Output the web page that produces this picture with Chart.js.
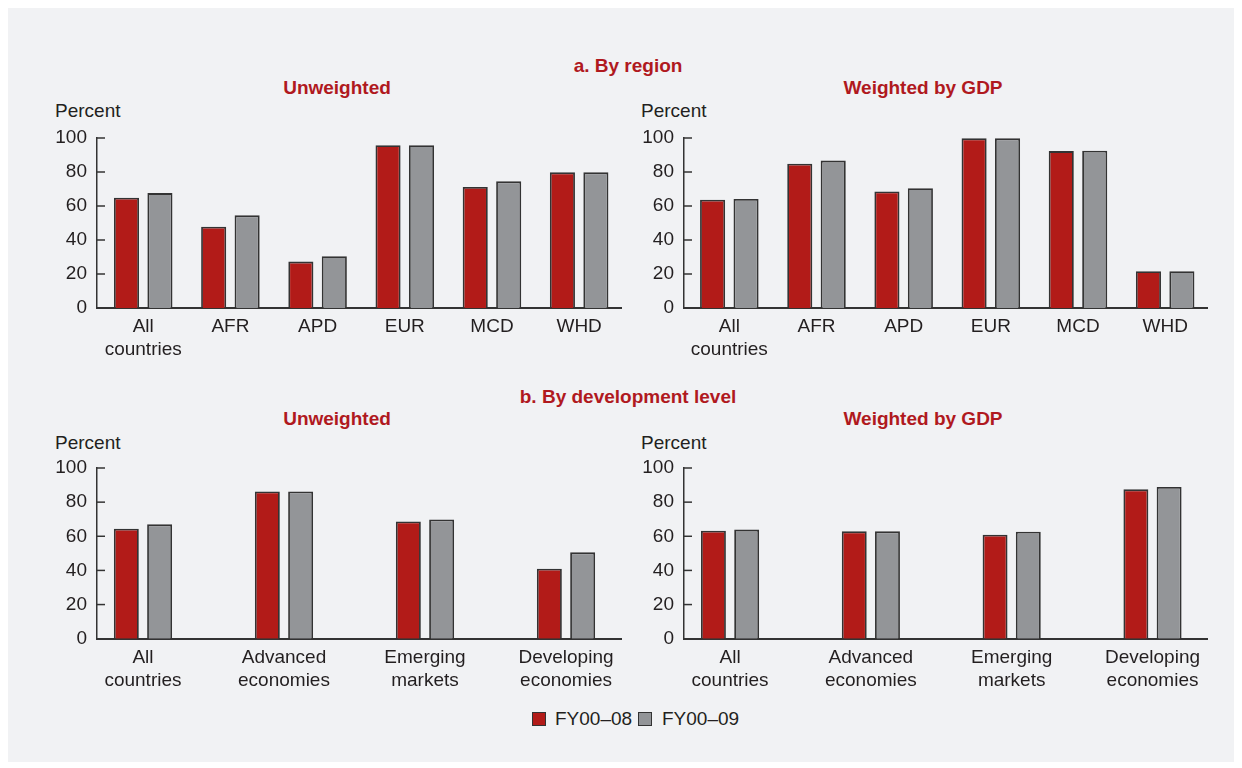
<!DOCTYPE html>
<html><head><meta charset="utf-8">
<script src="https://cdn.jsdelivr.net/npm/chart.js@4/dist/chart.umd.min.js"></script>
<style>
html,body{margin:0;padding:0;background:#fff;}
body{width:1242px;height:768px;position:relative;overflow:hidden;font-family:"Liberation Sans",Arial,sans-serif;color:#231f20;}
#panel{position:absolute;left:8px;top:8px;width:1226px;height:754px;background:#f1f2f4;}
.t{position:absolute;white-space:nowrap;font-size:19px;line-height:24px;}
.title{font-weight:bold;color:#b0191e;text-align:center;width:400px;}
canvas{position:absolute;}
.sw{position:absolute;width:12px;height:12px;border:1px solid #333;}
</style></head>
<body>
<div id="panel"></div>
<div class="t title" style="left:428px;top:54px;">a. By region</div>
<div class="t title" style="left:137px;top:75.5px;">Unweighted</div>
<div class="t title" style="left:723px;top:75.5px;">Weighted by GDP</div>
<div class="t title" style="left:428px;top:385px;">b. By development level</div>
<div class="t title" style="left:137px;top:407px;">Unweighted</div>
<div class="t title" style="left:723px;top:407px;">Weighted by GDP</div>
<div class="t" style="left:55px;top:99.4px;">Percent</div>
<div class="t" style="left:641px;top:99.4px;">Percent</div>
<div class="t" style="left:55px;top:430.7px;">Percent</div>
<div class="t" style="left:641px;top:430.7px;">Percent</div>
<canvas id="c1"></canvas>
<canvas id="c2"></canvas>
<canvas id="c3"></canvas>
<canvas id="c4"></canvas>
<div class="sw" style="left:532px;top:712px;background:#b21b18;"></div>
<div class="t" id="lg1" style="left:555px;top:707.4px;"></div>
<div class="sw" style="left:638px;top:712px;background:#939598;"></div>
<div class="t" id="lg2" style="left:662px;top:707.4px;"></div>
<script>
// ---- data ----
const seriesNames = ['FY00\u201308', 'FY00\u201309'];
const regionCategories = [['All', 'countries'], 'AFR', 'APD', 'EUR', 'MCD', 'WHD'];
const devCategories = [['All', 'countries'], ['Advanced', 'economies'], ['Emerging', 'markets'], ['Developing', 'economies']];
const yTickValues = [0, 20, 40, 60, 80, 100];

const regionUnweighted08 = [64.9, 47.8, 27.3, 95.8, 71.2, 79.8];
const regionUnweighted09 = [67.6, 54.5, 30.4, 95.8, 74.5, 79.8];
const regionGdp08 = [63.7, 84.9, 68.6, 99.8, 92.3, 21.6];
const regionGdp09 = [64.1, 86.7, 70.4, 99.8, 92.5, 21.6];
const devUnweighted08 = [64.4, 86.3, 68.7, 41.0];
const devUnweighted09 = [67.0, 86.3, 69.9, 50.6];
const devGdp08 = [63.3, 62.9, 60.9, 87.5];
const devGdp09 = [63.9, 62.9, 62.7, 88.9];

// ---- style ----
const RED = '#b21b18', GRAY = '#939598', EDGE = '#333333', AXIS = '#333333', TEXT = '#231f20';
const FONT = '"Liberation Sans", Arial, sans-serif';
document.getElementById('lg1').textContent = seriesNames[0];
document.getElementById('lg2').textContent = seriesNames[1];

const inwardTicks = {
  id: 'inwardTicks',
  afterDraw(chart) {
    const ys = chart.scales.y, ctx = chart.ctx, x0 = chart.chartArea.left;
    ctx.save();
    ctx.strokeStyle = AXIS; ctx.lineWidth = 1.5;
    ys.ticks.forEach(t => {
      if (t.value === 0) return;
      const py = ys.getPixelForValue(t.value);
      ctx.beginPath(); ctx.moveTo(x0, py); ctx.lineTo(x0 + 8, py); ctx.stroke();
    });
    ctx.restore();
  }
};

const Y_W = 77, PAD_T = 28, X_H = 62, PAD_R = 20;
function makeChart(id, area, cats, s08, s09, xMin, xMax, catPct) {
  const cv = document.getElementById(id);
  const w = area.right - area.left + Y_W + PAD_R;
  const h = area.bottom - area.top + PAD_T + X_H;
  cv.width = Math.round(w); cv.height = Math.round(h);
  cv.style.left = (area.left - Y_W) + 'px';
  cv.style.top = (area.top - PAD_T) + 'px';
  const padR = cv.width - Y_W - (area.right - area.left);
  const padT = PAD_T;
  const xh = cv.height - padT - (area.bottom - area.top);
  const mk = (vals) => vals.map((v, i) => ({x: i, y: v}));
  new Chart(cv, {
    type: 'bar',
    data: {
      datasets: [
        {label: seriesNames[0], data: mk(s08), backgroundColor: RED, borderColor: EDGE, borderWidth: 1.8, categoryPercentage: catPct, barPercentage: 0.75},
        {label: seriesNames[1], data: mk(s09), backgroundColor: GRAY, borderColor: EDGE, borderWidth: 1.8, categoryPercentage: catPct, barPercentage: 0.75}
      ]
    },
    options: {
      responsive: false, animation: false, devicePixelRatio: 1,
      layout: {padding: {left: 0, top: padT, right: padR, bottom: 0}},
      plugins: {legend: {display: false}, tooltip: {enabled: false}},
      scales: {
        x: {
          type: 'linear', min: xMin, max: xMax, offset: false,
          afterBuildTicks: s => { s.ticks = cats.map((c, i) => ({value: i})); },
          afterFit: s => { s.height = xh; },
          grid: {display: false, drawTicks: false},
          border: {display: true, color: AXIS, width: 2},
          ticks: {
            autoSkip: false, maxRotation: 0, padding: 7, color: TEXT,
            font: {family: FONT, size: 19, lineHeight: 1.23},
            callback: v => cats[v]
          }
        },
        y: {
          min: 0, max: 100,
          afterBuildTicks: s => { s.ticks = yTickValues.map(v => ({value: v})); },
          afterFit: s => { s.width = Y_W; },
          grid: {display: false, drawTicks: false},
          border: {display: true, color: AXIS, width: 1.5},
          ticks: {padding: 10, color: TEXT, font: {family: FONT, size: 19}}
        }
      }
    },
    plugins: [inwardTicks]
  });
}

makeChart('c1', {left: 97, right: 621, top: 137.7, bottom: 307.7}, regionCategories, regionUnweighted08, regionUnweighted09, -0.53, 5.48, 0.7675);
makeChart('c2', {left: 684, right: 1207, top: 137.7, bottom: 307.7}, regionCategories, regionGdp08, regionGdp09, -0.52, 5.48, 0.7675);
makeChart('c3', {left: 97, right: 621, top: 468.3, bottom: 639}, devCategories, devUnweighted08, devUnweighted09, -0.326, 3.39, 0.472);
makeChart('c4', {left: 684, right: 1207, top: 468.3, bottom: 639}, devCategories, devGdp08, devGdp09, -0.327, 3.387, 0.472);
</script>
</body></html>
